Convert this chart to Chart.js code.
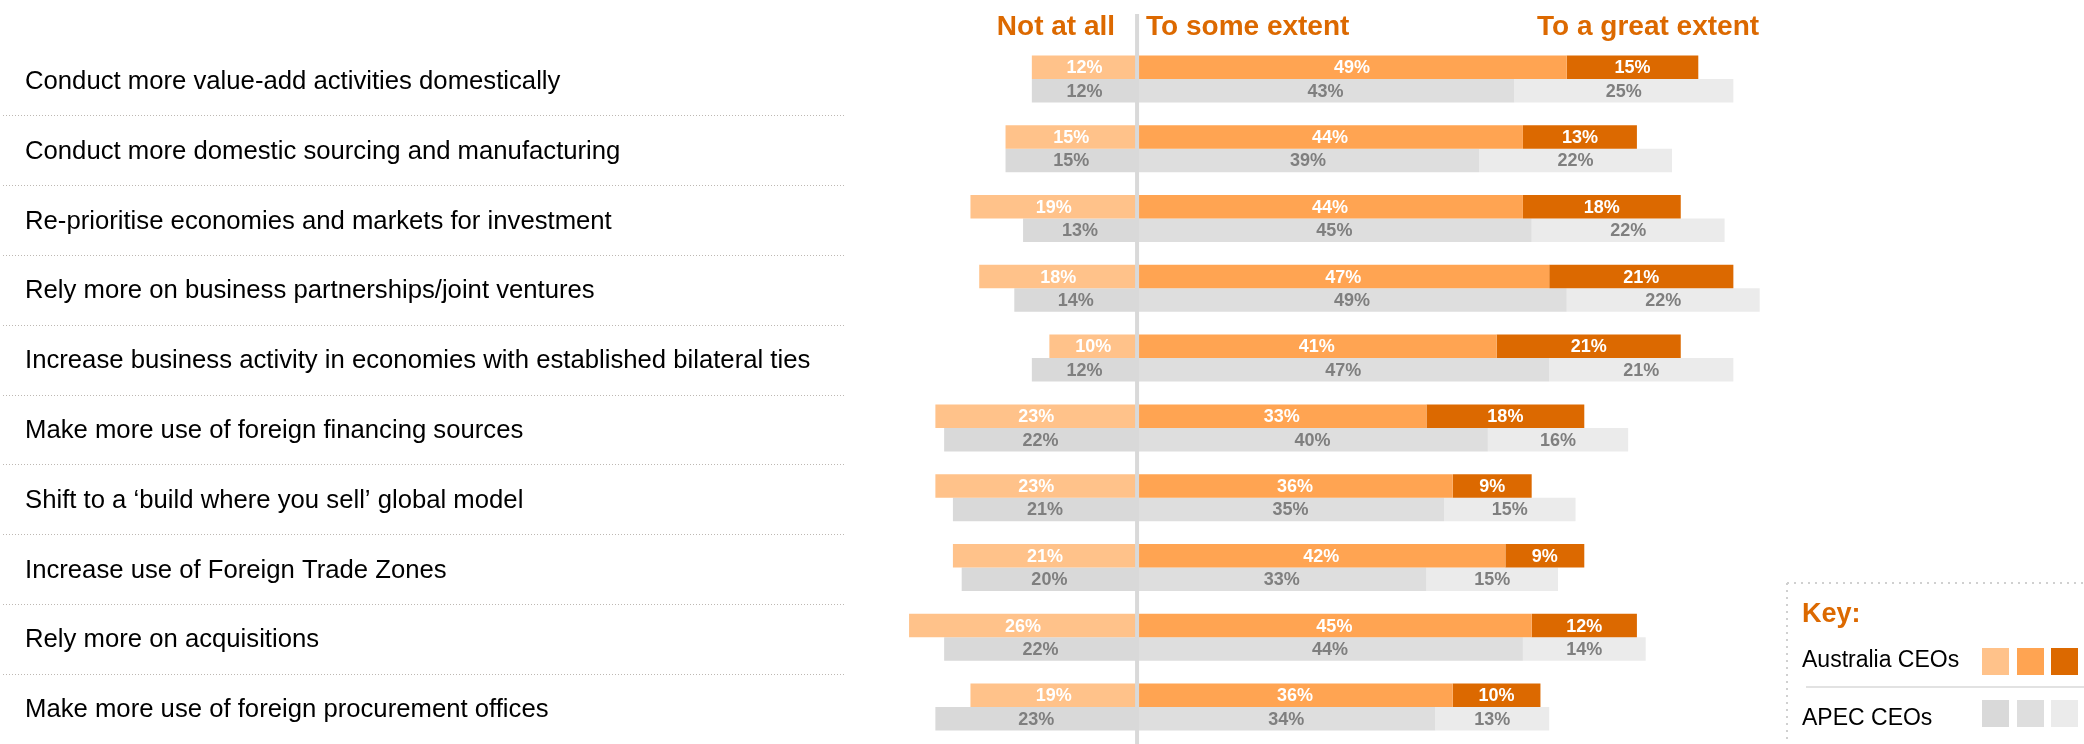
<!DOCTYPE html>
<html>
<head>
<meta charset="utf-8">
<script src="https://cdn.jsdelivr.net/npm/chart.js@4.4.1/dist/chart.umd.min.js"></script>
<style>
  html, body { margin: 0; padding: 0; background: #ffffff; }
  #wrap { position: relative; width: 2084px; height: 744px; }
</style>
</head>
<body>
<div id="wrap"><canvas id="chart" width="2084" height="744"></canvas></div>
<script>
// Chart data
const categories = [
    "Conduct more value-add activities domestically",
    "Conduct more domestic sourcing and manufacturing",
    "Re-prioritise economies and markets for investment",
    "Rely more on business partnerships/joint ventures",
    "Increase business activity in economies with established bilateral ties",
    "Make more use of foreign financing sources",
    "Shift to a \u2018build where you sell\u2019 global model",
    "Increase use of Foreign Trade Zones",
    "Rely more on acquisitions",
    "Make more use of foreign procurement offices"
];
const ausNotAtAll = [12, 15, 19, 18, 10, 23, 23, 21, 26, 19];
const ausSomeExtent = [49, 44, 44, 47, 41, 33, 36, 42, 45, 36];
const ausGreatExtent = [15, 13, 18, 21, 21, 18, 9, 9, 12, 10];
const apecNotAtAll = [12, 15, 13, 14, 12, 22, 21, 20, 22, 23];
const apecSomeExtent = [43, 39, 45, 49, 47, 40, 35, 33, 44, 34];
const apecGreatExtent = [25, 22, 22, 22, 21, 16, 15, 15, 14, 13];
const headerLabels = ["Not at all", "To some extent", "To a great extent"];
const keyTitle = "Key:";
const keyLabels = ["Australia CEOs", "APEC CEOs"];

const FONT = "'Liberation Sans', Arial, Helvetica, sans-serif";
const ORANGE = "#dc6900";
const ausColors = ["#ffc28a", "#ffa452", "#dc6900"];
const apecColors = ["#d9d9d9", "#dedede", "#ebebeb"];

function makeDataset(label, values, color, stack, valueColor, negative) {
    return {
        label: label,
        data: values.map((v) => (negative ? -v : v)),
        backgroundColor: color,
        borderWidth: 0,
        stack: stack,
        valueColor: valueColor,
        barPercentage: 1.0,
        categoryPercentage: 0.674
    };
}

const datasets = [
    makeDataset("Australia - Not at all", ausNotAtAll, ausColors[0], "aus", "#ffffff", true),
    makeDataset("Australia - To some extent", ausSomeExtent, ausColors[1], "aus", "#ffffff", false),
    makeDataset("Australia - To a great extent", ausGreatExtent, ausColors[2], "aus", "#ffffff", false),
    makeDataset("APEC - Not at all", apecNotAtAll, apecColors[0], "apec", "#7f7f7f", true),
    makeDataset("APEC - To some extent", apecSomeExtent, apecColors[1], "apec", "#7f7f7f", false),
    makeDataset("APEC - To a great extent", apecGreatExtent, apecColors[2], "apec", "#7f7f7f", false)
];

// Separators, centre line, value labels, headers and key
const decorPlugin = {
    id: "decor",
    beforeDatasetsDraw(chart) {
        const ctx = chart.ctx;
        const yScale = chart.scales.y;
        const step = (yScale.bottom - yScale.top) / categories.length;
        ctx.save();
        ctx.strokeStyle = "#bdb8b3";
        ctx.lineWidth = 1;
        ctx.setLineDash([1, 2]);
        for (let i = 0; i < categories.length; i++) {
            const yy = Math.round(yScale.getPixelForValue(i) + step / 2 + 2.5) - 0.5;
            ctx.beginPath();
            ctx.moveTo(3, yy);
            ctx.lineTo(845, yy);
            ctx.stroke();
        }
        ctx.restore();
    },
    afterDatasetsDraw(chart) {
        const ctx = chart.ctx;
        const x0 = chart.scales.x.getPixelForValue(0);
        ctx.save();

        // centre line
        ctx.strokeStyle = "#d9d9d9";
        ctx.lineWidth = 4;
        ctx.beginPath();
        ctx.moveTo(x0, 14);
        ctx.lineTo(x0, 744);
        ctx.stroke();

        // value labels
        ctx.font = "bold 18px " + FONT;
        ctx.textAlign = "center";
        ctx.textBaseline = "middle";
        chart.data.datasets.forEach((ds, i) => {
            const meta = chart.getDatasetMeta(i);
            ctx.fillStyle = ds.valueColor;
            meta.data.forEach((bar, j) => {
                const cx = (bar.x + bar.base) / 2;
                ctx.fillText(Math.abs(ds.data[j]) + "%", cx, bar.y + 1);
            });
        });

        // column headers
        ctx.font = "bold 28px " + FONT;
        ctx.fillStyle = ORANGE;
        ctx.textBaseline = "alphabetic";
        ctx.textAlign = "right";
        ctx.fillText(headerLabels[0], x0 - 22, 35);
        ctx.textAlign = "left";
        ctx.fillText(headerLabels[1], x0 + 9, 35);
        ctx.textAlign = "right";
        ctx.fillText(headerLabels[2], x0 + 622, 35);

        // key box
        ctx.strokeStyle = "#d0d0d0";
        ctx.lineWidth = 2;
        ctx.setLineDash([2, 5]);
        ctx.beginPath();
        ctx.moveTo(1787, 583);
        ctx.lineTo(2084, 583);
        ctx.moveTo(1787, 583);
        ctx.lineTo(1787, 744);
        ctx.stroke();
        ctx.setLineDash([]);

        ctx.textAlign = "left";
        ctx.font = "bold 27px " + FONT;
        ctx.fillStyle = ORANGE;
        ctx.fillText(keyTitle, 1802, 622);

        ctx.font = "23px " + FONT;
        ctx.fillStyle = "#000000";
        ctx.fillText(keyLabels[0], 1802, 667);
        ctx.fillText(keyLabels[1], 1802, 725);

        ctx.strokeStyle = "#d9d9d9";
        ctx.lineWidth = 1.5;
        ctx.beginPath();
        ctx.moveTo(1806, 687);
        ctx.lineTo(2084, 687);
        ctx.stroke();

        const sqX = [1982, 2017, 2051];
        sqX.forEach((sx, k) => {
            ctx.fillStyle = ausColors[k];
            ctx.fillRect(sx, 648, 27, 27);
            ctx.fillStyle = apecColors[k];
            ctx.fillRect(sx, 700, 27, 27);
        });

        ctx.restore();
    }
};

const chart = new Chart(document.getElementById("chart").getContext("2d"), {
    type: "bar",
    data: { labels: categories, datasets: datasets },
    options: {
        indexAxis: "y",
        responsive: false,
        devicePixelRatio: 1,
        animation: false,
        layout: { padding: { left: 25, top: 44, right: 245.4, bottom: 2 } },
        plugins: { legend: { display: false }, tooltip: { enabled: false } },
        scales: {
            x: { type: "linear", stacked: true, min: -30, max: 80, display: false },
            y: {
                stacked: true,
                grid: { display: false },
                border: { display: false },
                ticks: {
                    crossAlign: "far",
                    padding: 0,
                    labelOffset: 3,
                    color: "#000000",
                    autoSkip: false,
                    font: { family: FONT, size: 25.7 }
                },
                afterFit(scale) {
                    scale.width = 849;
                    scale.paddingTop = 0;
                    scale.paddingBottom = 0;
                }
            }
        }
    },
    plugins: [decorPlugin]
});
</script>
</body>
</html>
